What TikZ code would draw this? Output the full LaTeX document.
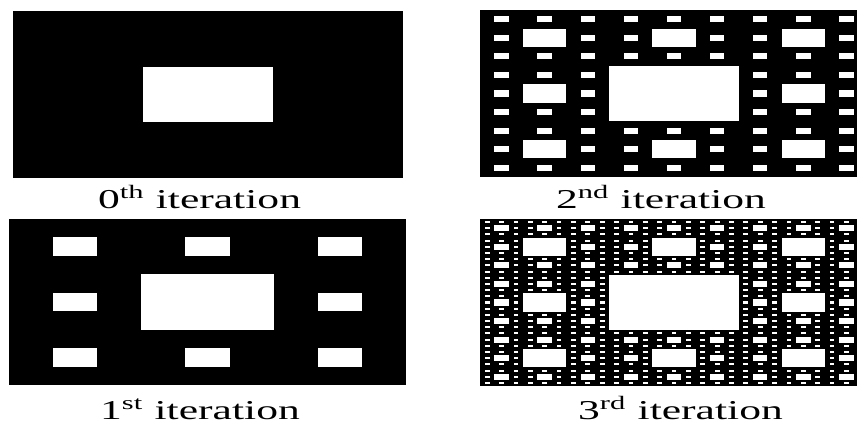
\documentclass[tikz,border=0pt]{standalone}
\usepackage{graphicx}
\usepackage{fontspec}
\setmainfont{Liberation Serif}
\usepackage{tikz}

% black rectangle with the holes of the first #5 levels of the carpet
\newcommand{\carpet}[5]{% x0, y0, width, height, levels
  \fill[black] (#1,#2) rectangle ++(#3,#4);
  \foreach \k in {1,...,#5} {
    \pgfmathtruncatemacro{\ncell}{3^(\k-1)-1}
    \pgfmathsetmacro{\holew}{#3/3^\k}
    \pgfmathsetmacro{\holeh}{#4/3^\k}
    \foreach \i in {0,...,\ncell}
      \foreach \j in {0,...,\ncell}
        \fill[white] ({#1+(3*\i+1)*\holew},{#2+(3*\j+1)*\holeh}) rectangle ++(\holew,\holeh);
  }
}
\newcommand{\iterlabel}[1]{\scalebox{1.6}[1]{#1}}

\begin{document}
\begin{tikzpicture}[x=0.02cm, y=0.02cm,
  caption/.style={anchor=base, inner sep=0pt, font=\fontsize{15.5}{18}\selectfont}]
  \useasboundingbox (0,0) rectangle (857,423);
  \clip (0,0) rectangle (857,423);

  % Carpets
  \carpet{13}{245}{390}{167}{1}   % 0th iteration
  \carpet{9}{38}{397}{166}{2}     % 1st iteration
  \carpet{480}{246}{388}{167}{3}  % 2nd iteration
  \carpet{480}{37}{388}{167}{4}   % 3rd iteration

  % Captions
  \node[caption] (lbl0) at (199.5,215) {\iterlabel{0\textsuperscript{th} iteration}};
  \node[caption] (lbl1) at (200,4) {\iterlabel{1\textsuperscript{st} iteration}};
  \node[caption] (lbl2) at (661,215) {\iterlabel{2\textsuperscript{nd} iteration}};
  \node[caption] (lbl3) at (680.5,4) {\iterlabel{3\textsuperscript{rd} iteration}};
\end{tikzpicture}
\end{document}
